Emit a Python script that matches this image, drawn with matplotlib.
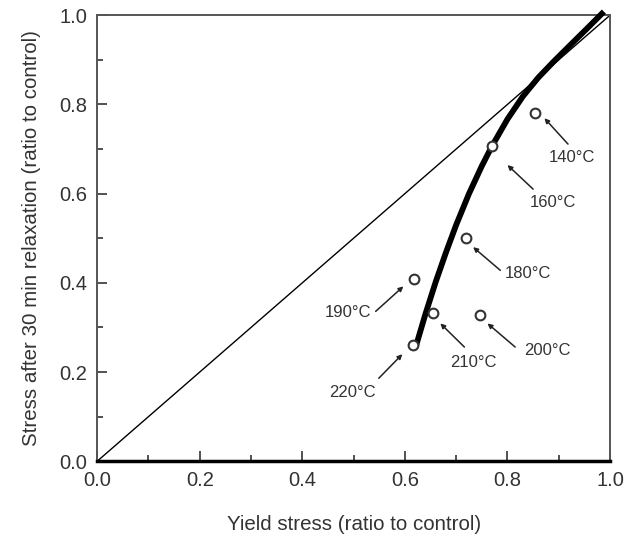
import numpy as np
import matplotlib.pyplot as plt
from matplotlib.ticker import MultipleLocator

plt.rcParams['font.family'] = ['Liberation Sans', 'DejaVu Sans']

# Data
temps = ['140°C', '160°C', '180°C', '190°C', '200°C', '210°C', '220°C']
yield_stress = [0.854, 0.770, 0.720, 0.617, 0.747, 0.654, 0.615]
relax_stress = [0.780, 0.706, 0.500, 0.408, 0.327, 0.332, 0.260]

# thick trend curve
curve_x = [0.622, 0.640, 0.660, 0.680, 0.700, 0.725, 0.750, 0.770, 0.800,
           0.830, 0.860, 0.890, 0.925, 0.955, 0.988]
curve_y = [0.260, 0.330, 0.402, 0.468, 0.530, 0.600, 0.662, 0.707, 0.767,
           0.818, 0.860, 0.896, 0.936, 0.970, 1.008]

# label placement: (text centre, arrow tail, arrow head) in data units
text_pos = [(0.926, 0.682), (0.889, 0.581), (0.839, 0.422), (0.490, 0.334),
            (0.877, 0.249), (0.733, 0.222), (0.498, 0.155)]
arrow_tail = [(0.918, 0.711), (0.850, 0.610), (0.786, 0.428), (0.543, 0.336),
              (0.815, 0.256), (0.716, 0.256), (0.549, 0.186)]
arrow_head = [(0.872, 0.769), (0.800, 0.664), (0.733, 0.480), (0.597, 0.392),
              (0.761, 0.309), (0.669, 0.309), (0.595, 0.240)]

fig = plt.figure(figsize=(6.27, 5.42), dpi=100)
ax = fig.add_axes([0.155, 0.149, 0.818, 0.823])

ax.plot([0, 1], [0, 1], color='black', lw=1.0)
ax.plot(curve_x, curve_y, color='black', lw=4.2, solid_capstyle='butt',
        solid_joinstyle='round', clip_on=False, zorder=3)
ax.plot(yield_stress, relax_stress, 'o', ms=7, mfc='white', mec='#333333',
        mew=1.5, zorder=4)

for t, tp, tail, head in zip(temps, text_pos, arrow_tail, arrow_head):
    ax.text(tp[0], tp[1], t, fontsize=12, ha='center', va='center', color='#333333')
    ax.annotate('', xy=head, xytext=tail,
                arrowprops=dict(arrowstyle='-|>', color='#222222', lw=1.1,
                                mutation_scale=7, shrinkA=0, shrinkB=0))

ax.set_xlim(0, 1)
ax.set_ylim(0, 1)
ax.xaxis.set_major_locator(MultipleLocator(0.2))
ax.yaxis.set_major_locator(MultipleLocator(0.2))
ax.xaxis.set_minor_locator(MultipleLocator(0.1))
ax.yaxis.set_minor_locator(MultipleLocator(0.1))
ax.tick_params(which='both', direction='in', colors='#333333', labelsize=14.5, pad=7)
ax.tick_params(which='major', length=7, width=1.2)
ax.tick_params(which='minor', length=4, width=1.2)
ax.xaxis.set_major_formatter(lambda v, p: f'{v:.1f}')
ax.yaxis.set_major_formatter(lambda v, p: f'{v:.1f}')

for s in ['left', 'top', 'right']:
    ax.spines[s].set_linewidth(1.4)
    ax.spines[s].set_color('#555555')
ax.spines['bottom'].set_linewidth(2.5)
ax.spines['bottom'].set_color('black')

ax.set_xlabel('Yield stress (ratio to control)', fontsize=14.8, color='#333333', labelpad=18)
ax.set_ylabel('Stress after 30 min relaxation (ratio to control)', fontsize=14.8,
              color='#333333', labelpad=13)

fig.savefig('out.png', dpi=100)
